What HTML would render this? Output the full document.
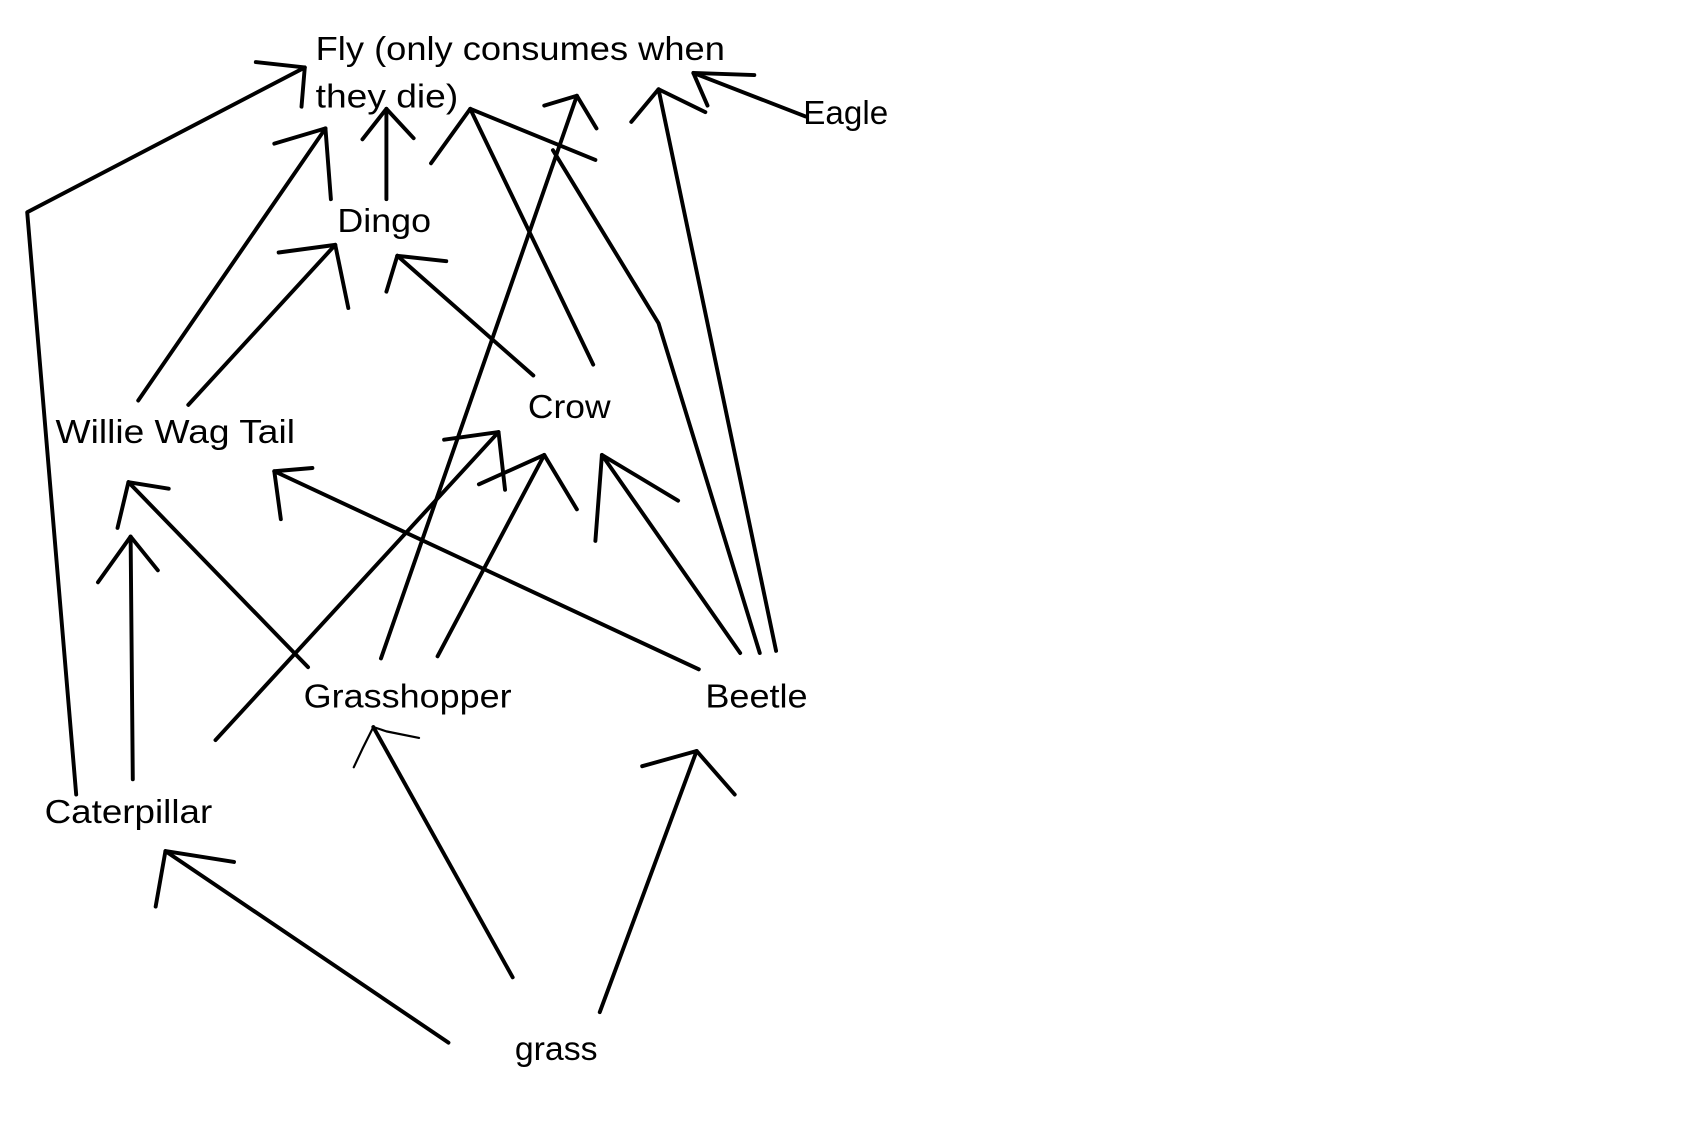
<!DOCTYPE html>
<html><head><meta charset="utf-8"><style>
html,body{margin:0;padding:0;background:#fff;}
svg{display:block;}
text{font-family:"Liberation Sans",sans-serif;font-size:31px;fill:#000;}
</style></head><body>
<svg width="1698" height="1121" viewBox="0 0 1560 1030" preserveAspectRatio="none" xmlns="http://www.w3.org/2000/svg">
<rect x="0" y="0" width="1560" height="1030" fill="#fff"/>
<g id="labels"></g>
<g id="strokes" fill="none" stroke="#000" stroke-width="3.6" stroke-linecap="round" stroke-linejoin="round"></g>
</svg>
<script>
const labelTexts = ["Fly (only consumes when","they die)","Eagle","Dingo","Willie Wag Tail","Crow","Grasshopper","Beetle","Caterpillar","grass"];
const labelX = [290,290,738,310,51,485,279,648,41,473];
const labelY = [55,99,114,213,407,384,650,650,756,974];
const labelW = [376,131,78,86,220,76,191,94,154,76];
const labelNames = ["fly-label","fly-label-line2","eagle-label","dingo-label","willie-wag-tail-label","crow-label","grasshopper-label","beetle-label","caterpillar-label","grass-label"];
const strokeNames = ["caterpillar-to-fly","caterpillar-to-fly-head","dingo-to-fly","dingo-to-fly-head","dingo-to-fly-2","dingo-to-fly-2-head","willie-to-fly","willie-to-dingo","willie-to-dingo-head","crow-to-dingo","crow-to-dingo-head","crow-to-fly","crow-to-fly-head","beetle-to-fly","grasshopper-to-fly","grasshopper-to-fly-head","beetle-to-fly-2","beetle-to-fly-2-head","eagle-to-fly","eagle-to-fly-head","beetle-to-crow","beetle-to-crow-head","grasshopper-to-crow","grasshopper-to-crow-head","caterpillar-to-crow","caterpillar-to-crow-head","beetle-to-willie","beetle-to-willie-head","grasshopper-to-willie","grasshopper-to-willie-head","caterpillar-to-willie","caterpillar-to-willie-head","grass-to-caterpillar","grass-to-caterpillar-head","grass-to-grasshopper","grass-to-grasshopper-head","grass-to-beetle","grass-to-beetle-head"];
const strokePts = [
"70,730 25,195 280,62","235,57 280,62 277,98",
"304,183 299,118","252,132 299,118",
"355,183 355,100","333,128 355,100 380,127",
"127,368 299,118",
"173,372 308,225","256,232 308,225 320,283",
"490,345 365,235","410,240 365,235 355,268",
"545,335 432,100","396,150 432,100 547,147",
"698,600 605,297 508,138",
"350,605 530,88","500,97 530,88 548,118",
"713,598 605,82","580,112 605,82 648,103",
"740,107 637,67","693,69 637,67 650,97",
"680,600 553,418","547,497 553,418 623,460",
"402,603 500,418","440,445 500,418 530,468",
"198,680 458,397","408,404 458,397 464,450",
"642,615 252,433","287,430 252,433 258,477",
"283,613 118,443","155,449 118,443 108,485",
"122,716 120,493","90,535 120,493 145,524",
"412,958 152,782","215,792 152,782 143,833",
"471,898 343,668","325,705 333,688 343,668 355,672 385,678",
"551,930 640,690","590,704 640,690 675,730"];
const NS="http://www.w3.org/2000/svg";
const lg=document.getElementById('labels');
labelTexts.forEach((t,i)=>{
  const el=document.createElementNS(NS,'text');
  
  
  el.setAttribute('x',labelX[i]);el.setAttribute('y',labelY[i]);
  el.setAttribute('textLength',labelW[i]);el.setAttribute('lengthAdjust','spacingAndGlyphs');
  el.textContent=t;lg.appendChild(el);
});
const sg=document.getElementById('strokes');
strokePts.forEach((p,i)=>{
  const el=document.createElementNS(NS,'polyline');
  
  
  el.setAttribute('points',p);
  if(i===35){el.setAttribute('stroke-width','2');}
  sg.appendChild(el);
});
</script>
</body></html>
